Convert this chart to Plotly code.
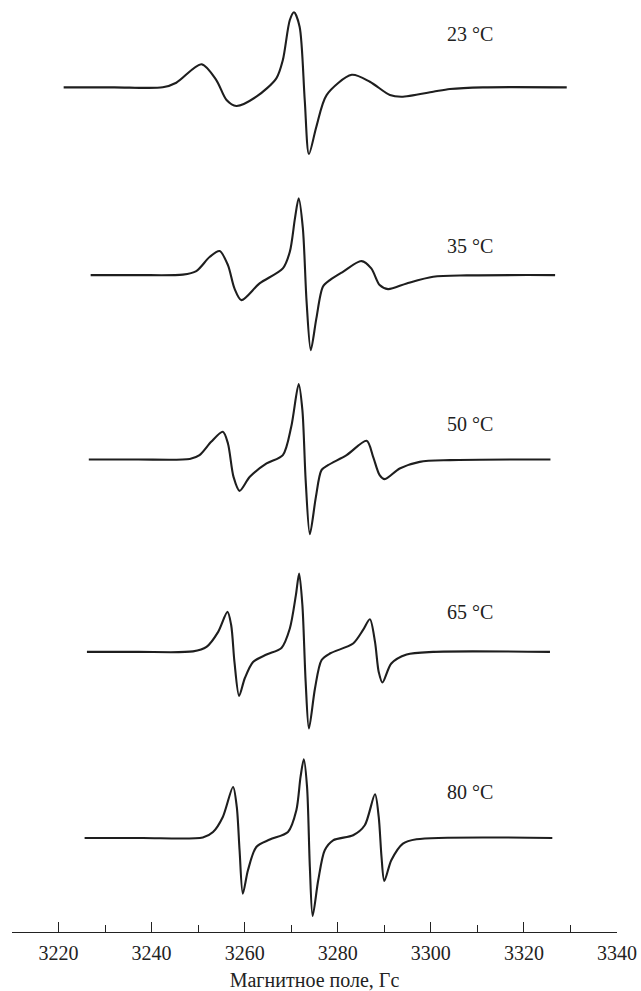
import plotly.graph_objects as go

# Temperatures (labels)
temps = ["23 °C", "35 °C", "50 °C", "65 °C", "80 °C"]

# Field values (G) and intensities (a.u.)
field_23 = [3221.1, 3232.0, 3242.4, 3245.3, 3250.7, 3253.9, 3256.1, 3258.2, 3262.5, 3266.8, 3268.2,
            3269.7, 3270.6, 3271.8, 3272.9, 3273.8, 3275.4, 3277.6, 3283.0, 3286.9, 3291.2, 3293.7,
            3300.5, 3304.1, 3311.2, 3329.2]
int_23 = [0, 0, 0, 4.6, 23, 7.3, -12.7, -18.7, -9.4, 9, 27.3,
          67.3, 75, 60.6, -12.7, -66.7, -39.4, -7.7, 12.5, 5.6, -7.7, -9.4,
          -4.4, -1.7, 0, 0]

field_35 = [3226.9, 3237.0, 3246.7, 3249.6, 3252.5, 3254.6, 3256.4, 3257.8, 3259.3, 3263.2, 3268.2,
            3269.7, 3270.8, 3271.6, 3272.5, 3273.3, 3274.2, 3275.4, 3276.8, 3278.3, 3281.1, 3285.1,
            3287.2, 3289.0, 3290.8, 3294.8, 3300.5, 3307.7, 3326.7]
int_35 = [0, 0, 0.5, 4, 18.3, 24, 10, -13.3, -25, -8.3, 6.7,
          23.3, 56.7, 76.7, 46.7, -26.7, -75, -43.3, -11.7, -5, 3.3, 14,
          6.7, -10, -14, -8.3, -1.7, -0.3, 0]

field_50 = [3226.5, 3237.0, 3248.2, 3250.3, 3252.8, 3255.3, 3256.4, 3257.6, 3258.9, 3261.1, 3264.7,
            3268.2, 3270.0, 3271.6, 3272.4, 3273.1, 3274.0, 3275.3, 3276.5, 3277.9, 3281.9, 3286.2,
            3287.6, 3289.0, 3290.1, 3293.3, 3297.6, 3304.1, 3325.7]
int_50 = [0, 0, 0.5, 4.3, 17.6, 27.6, 16, -17.4, -31.4, -17.4, -4,
          4.3, 32.6, 75.3, 49.3, -20.7, -74.7, -37.4, -10.7, -5.7, 4.3, 18.6,
          2.6, -15.7, -19.7, -9, -2.4, -0.7, 0]

field_65 = [3226.1, 3237.0, 3248.9, 3251.8, 3254.3, 3256.3, 3257.1, 3257.8, 3258.8, 3260.0, 3261.8,
            3264.7, 3267.9, 3269.7, 3271.0, 3271.7, 3272.4, 3273.1, 3273.8, 3275.1, 3276.5, 3278.3,
            3283.3, 3285.4, 3286.9, 3288.0, 3288.8, 3289.6, 3291.5, 3294.8, 3300.5, 3325.6]
int_65 = [0, 0, 0.5, 5, 20, 40, 26.7, -10, -44, -26.6, -10,
          -2.6, 4, 23.4, 56.7, 78.4, 46.7, -30, -76.6, -36.6, -8.3, -1.6,
          8.4, 21.7, 32.7, 10, -20, -30.6, -11.6, -2.6, 0, 0]

field_80 = [3225.6, 3238.0, 3251.0, 3253.2, 3255.3, 3257.5, 3258.3, 3258.9, 3259.6, 3260.7, 3262.5,
            3265.4, 3269.3, 3271.1, 3272.0, 3272.7, 3273.4, 3274.0, 3274.6, 3275.8, 3277.2, 3279.0,
            3283.3, 3285.8, 3288.0, 3288.8, 3289.4, 3290.0, 3291.5, 3294.0, 3296.9, 3326.1]
int_80 = [0, 0, 0.5, 6, 21, 51, 31, -12.3, -55.6, -32.3, -9,
          -1.6, 6, 27.7, 61, 78.7, 51, -29, -78, -42.3, -12.3, -2.3,
          2.7, 12.7, 43.7, 21, -19, -43, -22.3, -5.6, -1.3, 0]

# Vertical offsets of each spectrum (a.u.)
offsets = [844.4, 656.7, 472.4, 280.0, 94.0]
# Temperature label positions
label_field = [3308.4, 3308.4, 3308.4, 3308.4, 3308.4]
label_y = [898.0, 686.0, 507.7, 320.0, 140.4]

major_ticks = [3220, 3240, 3260, 3280, 3300, 3320, 3340]
minor_ticks = [3210, 3230, 3250, 3270, 3290, 3310, 3330]

fields = [field_23, field_35, field_50, field_65, field_80]
ints = [int_23, int_35, int_50, int_65, int_80]

fig = go.Figure()
for f, v, off in zip(fields, ints, offsets):
    fig.add_trace(go.Scatter(
        x=f, y=[a + off for a in v], mode="lines",
        line=dict(color="#1e1e1e", width=2.1, shape="spline", smoothing=0.8),
        showlegend=False, hoverinfo="skip"))

for t, lx, ly in zip(temps, label_field, label_y):
    fig.add_annotation(x=lx, y=ly, xref="x", yref="y", text=t, showarrow=False,
                       font=dict(family="Liberation Serif", size=20, color="#222"))

fig.update_layout(
    width=641, height=991,
    margin=dict(l=12.3, r=24, t=0, b=59.3),
    paper_bgcolor="white", plot_bgcolor="white",
    font=dict(family="Liberation Serif", size=20, color="#222"),
    xaxis=dict(
        range=[3210, 3340], showgrid=False, zeroline=False,
        showline=True, linecolor="#222", linewidth=1.2,
        tickmode="array", tickvals=major_ticks,
        ticktext=[str(t) for t in major_ticks],
        ticks="inside", ticklen=10, tickwidth=1.2, tickcolor="#222",
        ticklabelstandoff=3,
        minor=dict(tickmode="array", tickvals=minor_ticks, ticks="inside",
                   ticklen=7, tickwidth=1.2, tickcolor="#222"),
        tickfont=dict(family="Liberation Serif", size=20, color="#222"),
        title=dict(text="Магнитное поле, Гс", standoff=10,
                   font=dict(family="Liberation Serif", size=20, color="#222")),
        automargin=False,
    ),
    yaxis=dict(range=[0, 931.7], visible=False, showgrid=False, zeroline=False),
)

fig.write_html(
    "out.html",
    config={"displayModeBar": False},
    post_script="document.body.style.margin='0';document.body.style.overflow='hidden';",
)
